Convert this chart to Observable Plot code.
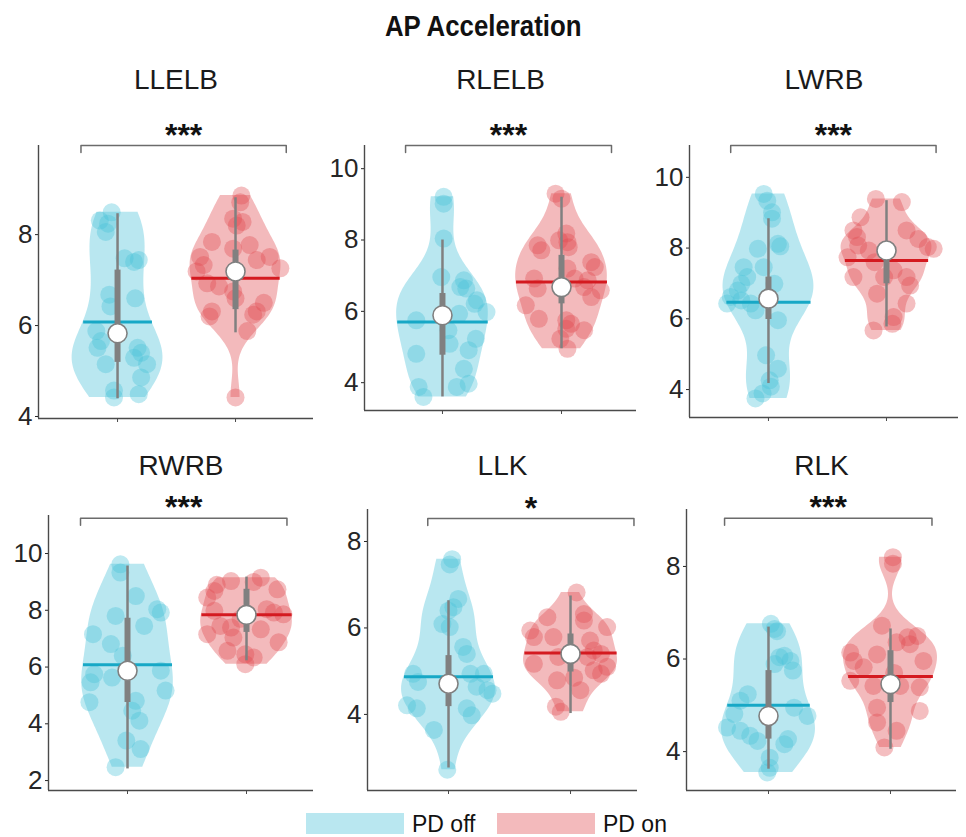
<!DOCTYPE html>
<html><head><meta charset="utf-8">
<script src="https://cdn.jsdelivr.net/npm/d3@7"></script>
<script src="https://cdn.jsdelivr.net/npm/@observablehq/plot@0.6"></script>
<style>
body{margin:0;background:#fff;}
#chart{position:relative;width:966px;height:837px;background:#fff;font-family:"Liberation Sans",Arial,sans-serif;overflow:hidden;color:#111;}
.panel{position:absolute;}
#title{position:absolute;left:0;top:11px;width:966px;text-align:center;font-weight:bold;font-size:30px;line-height:1;}
#title span{display:inline-block;transform:scaleX(0.86);}
.sw{position:absolute;top:813px;width:98px;height:21px;}
.lt{position:absolute;top:813px;font-size:23px;line-height:1;}
</style></head><body>
<div id="chart">
  <div id="title"><span>AP Acceleration</span></div>
</div>
<script>
// ---------- data ----------
const panelNames = ["LLELB","RLELB","LWRB","RWRB","LLK","RLK"];
const groupNames = ["PD off","PD on"];
const significance = ["***","***","***","***","*","***"];
const yTicks = [[4,6,8],[4,6,8,10],[4,6,8,10],[2,4,6,8,10],[4,6,8],[4,6,8]];
const yLimits = [[3.956,9.96],[3.22,10.65],[3.21,10.9],[1.65,11.34],[2.24,8.74],[3.16,9.23]];
const xLimits = [[0.330,2.661],[0.345,2.630],[0.331,2.610],[0.336,2.563],[0.336,2.549],[0.328,2.541]];
const bracketY = [9.96,10.65,10.9,11.24,8.53,9.04];
const bracketX = [[0.69,2.43],[0.69,2.42],[0.68,2.42],[0.605,2.34],[0.83,2.52],[0.64,2.34]];

// points: [value, horizontal jitter]
const llelbOff = [[8.49,-0.05],[8.31,-0.15],[8.06,-0.10],[8.24,-0.08],[7.48,0.06],[7.40,0.14],[7.44,0.18],[6.68,-0.07],[6.42,-0.06],[6.60,0.15],[5.88,-0.18],[5.66,-0.14],[5.51,-0.17],[5.15,-0.10],[5.51,0.17],[5.40,0.20],[5.29,0.14],[5.15,0.25],[4.86,0.20],[4.57,-0.03],[4.42,-0.03],[4.49,0.18]];
const llelbOn = [[8.86,0.05],[8.71,0.04],[8.35,-0.02],[8.20,0.01],[8.28,0.06],[7.84,-0.20],[7.69,-0.02],[7.77,0.12],[7.51,-0.30],[7.33,-0.27],[7.44,0.18],[7.51,0.29],[7.26,0.38],[7.19,-0.33],[6.93,-0.24],[6.86,-0.14],[6.60,0.00],[6.75,-0.02],[6.50,0.24],[6.31,0.18],[6.24,0.15],[6.31,-0.20],[6.20,-0.22],[5.88,0.10],[4.42,0.00]];
const rlelbOff = [[9.21,0.01],[9.02,0.01],[8.04,0.01],[6.96,-0.01],[6.87,0.18],[6.64,0.20],[6.68,0.15],[6.31,0.29],[6.21,0.27],[5.98,0.37],[5.93,0.14],[5.75,-0.22],[5.47,0.05],[5.09,0.06],[5.23,0.28],[4.91,0.22],[4.81,-0.22],[4.39,0.18],[3.97,0.22],[3.88,0.12],[3.88,-0.20],[3.60,-0.16]];
const rlelbOn = [[9.30,-0.05],[9.16,0.00],[8.18,0.04],[7.94,0.05],[7.99,-0.02],[7.85,-0.20],[7.71,-0.17],[7.80,0.06],[7.38,0.25],[7.24,0.28],[7.20,0.05],[6.92,-0.23],[6.92,0.11],[6.87,0.22],[6.64,-0.20],[6.68,0.19],[6.59,0.33],[6.40,0.25],[6.17,-0.30],[5.79,-0.19],[5.75,0.04],[5.65,0.08],[5.47,0.19],[5.51,0.04],[5.23,-0.01],[4.95,0.05]];
const lwrbOff = [[9.53,-0.04],[9.34,-0.01],[9.01,0.03],[8.83,0.03],[8.12,0.08],[7.98,-0.09],[8.05,0.10],[7.46,-0.21],[7.46,-0.04],[7.18,-0.18],[6.99,-0.23],[6.99,0.05],[6.80,-0.26],[6.62,-0.32],[6.52,-0.23],[6.43,-0.35],[6.43,-0.15],[6.24,-0.11],[5.96,0.08],[4.97,-0.02],[4.59,0.08],[4.26,0.01],[4.08,0.02],[3.89,-0.05],[3.75,-0.11]];
const lwrbOn = [[9.39,-0.09],[9.30,0.13],[8.87,-0.22],[8.50,-0.28],[8.31,-0.25],[8.07,-0.24],[7.93,-0.15],[8.50,0.17],[8.26,0.27],[8.03,0.35],[7.98,0.40],[7.74,-0.33],[7.60,-0.10],[7.37,0.06],[7.18,-0.02],[7.18,-0.28],[7.18,0.17],[6.94,0.20],[6.71,-0.08],[6.43,0.17],[5.86,0.05],[5.67,-0.11],[6.05,0.06]];
const rwrbOff = [[9.62,-0.06],[9.33,-0.06],[8.50,0.07],[7.80,-0.10],[8.04,0.25],[7.92,0.28],[7.45,0.14],[7.16,-0.29],[6.81,-0.14],[6.40,-0.04],[5.75,-0.28],[5.63,-0.13],[5.46,-0.31],[5.87,0.28],[5.17,0.32],[4.76,-0.32],[4.81,0.07],[4.46,0.04],[4.11,0.10],[3.41,-0.01],[3.11,0.11],[2.47,-0.10]];
const rwrbOn = [[9.03,-0.13],[9.15,0.12],[8.74,0.26],[8.68,-0.27],[8.45,-0.33],[9.00,0.06],[7.98,-0.27],[8.04,0.17],[7.92,0.23],[7.86,0.31],[7.16,-0.33],[7.45,-0.22],[7.39,-0.13],[7.33,0.12],[7.04,-0.11],[6.87,0.27],[6.57,-0.16],[6.45,-0.01],[6.10,-0.01],[6.34,0.06],[7.70,-0.05],[8.90,-0.25]];
const llkOff = [[7.59,0.03],[7.47,0.01],[6.67,0.08],[6.48,0.04],[6.40,0.00],[6.09,-0.05],[6.02,0.01],[5.56,0.12],[5.40,0.15],[4.94,-0.29],[4.75,-0.25],[4.94,0.18],[4.94,0.29],[4.64,0.23],[4.56,0.32],[4.48,0.36],[4.21,-0.34],[4.14,-0.26],[4.14,0.15],[3.98,0.19],[3.64,-0.12],[2.72,-0.01]];
const llkOn = [[6.82,0.05],[6.32,0.11],[6.25,-0.19],[5.94,-0.33],[6.02,0.30],[6.17,0.11],[5.79,-0.14],[5.79,-0.30],[5.71,0.16],[5.48,0.19],[5.40,0.25],[5.33,0.14],[5.33,-0.10],[5.17,-0.30],[5.10,0.30],[5.02,0.19],[4.94,0.25],[4.79,-0.11],[4.56,0.08],[4.18,-0.12],[4.06,-0.08],[4.85,0.03]];
const rlkOff = [[6.76,0.02],[6.65,0.05],[6.60,0.07],[6.04,0.09],[6.07,0.13],[5.96,0.18],[5.75,0.20],[5.89,0.05],[5.24,-0.17],[5.10,-0.23],[4.81,-0.28],[4.95,0.21],[4.77,0.32],[4.52,-0.34],[4.45,-0.23],[4.34,-0.15],[4.23,-0.09],[4.16,0.13],[4.27,0.16],[3.87,0.01],[3.65,0.01],[3.55,-0.01]];
const rlkOn = [[8.20,0.02],[8.06,0.02],[6.72,-0.07],[6.47,0.14],[6.50,0.22],[6.32,0.16],[6.36,0.05],[6.14,-0.33],[6.10,-0.11],[5.96,-0.30],[5.96,0.27],[5.82,-0.22],[5.53,-0.33],[5.42,-0.14],[5.39,0.24],[5.42,0.08],[4.95,-0.11],[4.88,0.24],[4.63,-0.11],[4.45,0.05],[4.09,-0.05],[5.70,0.03]];

// summary statistics per panel: [PD off, PD on]
const medians   = [[5.83,7.19],[5.89,6.68],[6.57,7.93],[5.87,7.84],[4.71,5.40],[4.77,5.46]];
const means     = [[6.08,7.04],[5.70,6.82],[6.47,7.65],[6.08,7.84],[4.87,5.42],[5.00,5.62]];
const quart1    = [[5.19,6.35],[4.77,6.21],[5.98,6.99],[4.75,7.22],[4.18,4.98],[4.27,5.06]];
const quart3    = [[7.22,7.66],[6.50,7.57],[7.18,8.10],[7.72,8.74],[5.36,5.86],[5.75,6.18]];
const whiskerLo = [[4.39,5.84],[3.60,4.95],[4.17,5.77],[2.41,6.22],[2.76,4.02],[3.62,4.05]];
const whiskerHi = [[8.46,8.81],[8.00,9.20],[8.83,9.34],[9.56,9.17],[6.63,6.74],[6.69,6.65]];

const panelPoints = [[llelbOff,llelbOn],[rlelbOff,rlelbOn],[lwrbOff,lwrbOn],[rwrbOff,rwrbOn],[llkOff,llkOn],[rlkOff,rlkOn]];

// ---------- styling / layout ----------
const fillColors = ["#47c1d8","#e04a50"];
const meanColors = ["#17a8c6","#d41a20"];
const legendColors = ["#b9e7f0","#f3babc"];
const gray = "#808080";
const axisColor = "#4a4a4a";
const halfWidth = 0.385;
const bwFactor = 0.8;
const frames = [
  {l:38, r:313, t:145, b:418},
  {l:364, r:636, t:145, b:410},
  {l:689, r:958, t:145, b:417},
  {l:48, r:313, t:515, b:790},
  {l:367, r:637, t:509, b:790},
  {l:686, r:956, t:509, b:790}
];

function kernel(ys, grid) {
  const n = ys.length;
  const med = d3.median(ys);
  const mad = d3.median(ys.map(v => Math.abs(v - med)));
  const bw = bwFactor * (mad / 0.6745) * Math.pow(4 / (3 * n), 0.2);
  return grid.map(g => d3.sum(ys, v => Math.exp(-0.5 * ((g - v) / bw) ** 2)));
}

const chart = document.getElementById("chart");

panelNames.forEach((name, i) => {
  const f = frames[i];
  const row = i < 3 ? 0 : 1;
  const rowTop = row === 0 ? 50 : 430;
  const baseline = row === 0 ? 88 : 474;
  const mL = Math.min(50, f.l), mR = 8, mT = f.t - rowTop, mB = 14;
  const width = mL + (f.r - f.l) + mR;
  const height = mT + (f.b - f.t) + mB;
  const [ymin, ymax] = yLimits[i];
  const [xmin, xmax] = xLimits[i];
  const unitsPerPx = (ymax - ymin) / (f.b - f.t);
  const marks = [];

  [0, 1].forEach(g => {
    const pos = g + 1;
    const pts = panelPoints[i][g];
    const ys = pts.map(p => p[0]);
    const lo = d3.min(ys), hi = d3.max(ys);
    const grid = d3.range(121).map(k => lo + (hi - lo) * k / 120);
    const dens = kernel(ys, grid);
    const mx = d3.max(dens);
    const rows = grid.map((y, k) => ({y, x1: pos - halfWidth * dens[k] / mx, x2: pos + halfWidth * dens[k] / mx}));
    marks.push(Plot.areaX(rows, {y: "y", x1: "x1", x2: "x2", fill: fillColors[g], fillOpacity: 0.38}));
    marks.push(Plot.dot(pts, {x: p => pos + p[1], y: p => p[0], r: 9, fill: fillColors[g], fillOpacity: 0.36}));
    const m = means[i][g];
    const wm = halfWidth * kernel(ys, [m])[0] / mx;
    marks.push(Plot.link([m], {x1: pos - wm, x2: pos + wm, y1: d => d, y2: d => d, stroke: meanColors[g], strokeWidth: 3}));
    marks.push(Plot.ruleX([pos], {y1: whiskerLo[i][g], y2: whiskerHi[i][g], stroke: gray, strokeWidth: 2.5}));
    marks.push(Plot.ruleX([pos], {y1: quart1[i][g], y2: quart3[i][g], stroke: gray, strokeWidth: 6}));
    marks.push(Plot.dot([medians[i][g]], {x: pos, y: d => d, r: 9.5, fill: "white", stroke: gray, strokeWidth: 1.6}));
  });

  // axes
  marks.push(Plot.ruleX([xmin], {y1: ymin, y2: ymax, stroke: axisColor, strokeWidth: 1.4}));
  marks.push(Plot.ruleY([ymin], {x1: xmin, x2: xmax, stroke: axisColor, strokeWidth: 1.4}));
  marks.push(Plot.axisY({ticks: yTicks[i], tickSize: 3, tickPadding: 3, fontSize: 26, label: null, color: "#262626", tickFormat: d => String(d)}));
  marks.push(Plot.axisX({ticks: [1, 2], tickSize: 4, tickFormat: () => "", label: null, color: axisColor}));

  // significance bracket
  const [bx1, bx2] = bracketX[i];
  const by = bracketY[i];
  const drop = 7 * unitsPerPx;
  marks.push(Plot.line([[bx1, by - drop], [bx1, by], [bx2, by], [bx2, by - drop]], {x: p => p[0], y: p => p[1], stroke: "#6b6b6b", strokeWidth: 1.5}));
  marks.push(Plot.text([significance[i]], {x: (bx1 + bx2) / 2, y: by, text: d => d, lineAnchor: "bottom", dy: 0, fontSize: 32, fontWeight: "bold", fill: "#111"}));

  // panel title
  marks.push(Plot.text([name], {frameAnchor: "top", dy: baseline - f.t, lineAnchor: "bottom", fontSize: 28, fill: "#1a1a1a", text: d => d}));

  const svg = Plot.plot({
    width, height,
    marginLeft: mL, marginRight: mR, marginTop: mT, marginBottom: mB,
    x: {domain: [xmin, xmax]},
    y: {domain: [ymin, ymax]},
    style: {fontFamily: "Liberation Sans, Arial, sans-serif", background: "transparent", overflow: "visible"},
    marks
  });
  const div = document.createElement("div");
  div.className = "panel";
  div.style.left = (f.l - mL) + "px";
  div.style.top = rowTop + "px";
  div.style.width = width + "px";
  div.appendChild(svg);
  chart.appendChild(div);
});

// legend
const legendX = [[306, 412], [497, 603]];
groupNames.forEach((gname, g) => {
  const sw = document.createElement("div");
  sw.className = "sw";
  sw.style.left = legendX[g][0] + "px";
  sw.style.background = legendColors[g];
  chart.appendChild(sw);
  const t = document.createElement("div");
  t.className = "lt";
  t.style.left = legendX[g][1] + "px";
  t.textContent = gname;
  chart.appendChild(t);
});
</script>
</body></html>
